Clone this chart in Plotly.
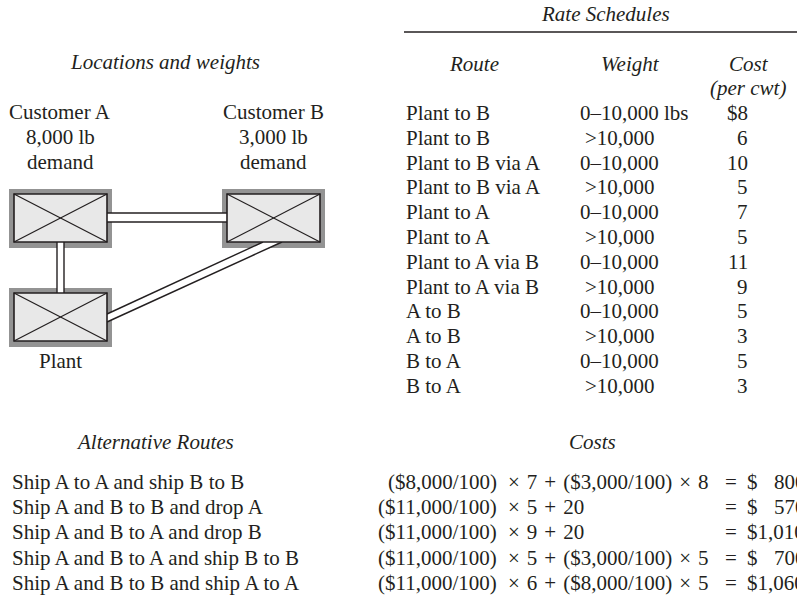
import plotly.graph_objects as go

W, H = 797, 606
FONT = "Liberation Serif"
FS = 21
INK = "#231f20"
SP = "\u2004"  # slightly wider math spacing around operators

# ---------------- data ----------------
locations = ["Customer A", "Customer B", "Plant"]
demands = ["8,000 lb", "3,000 lb"]

routes = ["Plant to B", "Plant to B", "Plant to B via A", "Plant to B via A",
          "Plant to A", "Plant to A", "Plant to A via B", "Plant to A via B",
          "A to B", "A to B", "B to A", "B to A"]
weights = ["0–10,000 lbs", ">10,000", "0–10,000", ">10,000", "0–10,000", ">10,000",
           "0–10,000", ">10,000", "0–10,000", ">10,000", "0–10,000", ">10,000"]
costs = ["$8", "6", "10", "5", "7", "5", "11", "9", "5", "3", "5", "3"]

alt_routes = ["Ship A to A and ship B to B",
              "Ship A and B to B and drop A",
              "Ship A and B to A and drop B",
              "Ship A and B to A and ship B to B",
              "Ship A and B to B and ship A to A"]
cost_first = ["($8,000/100)", "($11,000/100)", "($11,000/100)", "($11,000/100)", "($11,000/100)"]
cost_rest = ["× 7 + ($3,000/100) × 8", "× 5 + 20", "× 9 + 20",
             "× 5 + ($3,000/100) × 5", "× 6 + ($8,000/100) × 5"]
totals = [800, 570, 1010, 700, 1060]

# ---------------- figure ----------------
fig = go.Figure()
shapes = []
ann = []


def text(x, y, s, anchor="left", italic=False, xref="x"):
    ann.append(dict(x=x, y=y, xref=xref, yref="y", text=s, showarrow=False,
                    xanchor=anchor, yanchor="middle",
                    font=dict(family=FONT, size=FS, color=INK,
                              style="italic" if italic else "normal")))


def mathspace(s):
    return s.replace(" ", SP)


# --- left: locations diagram ---
text(165, 62, "Locations and weights", "center", True)
text(60, 112, locations[0], "center")
text(273, 112, locations[1], "center")
text(60, 137, demands[0], "center")
text(273, 137, demands[1], "center")
text(60, 162, "demand", "center")
text(273, 162, "demand", "center")
text(60, 361, locations[2], "center")

boxes = [(9, 189), (222, 189), (9, 288)]
BW, BH, FR = 103, 59, 5
for (x0, y0) in boxes:
    shapes.append(dict(type="rect", x0=x0, y0=y0, x1=x0 + BW, y1=y0 + BH,
                       line=dict(width=0), fillcolor="#939393", layer="above"))

# connectors (white channels with dark edges)
conn_fill = dict(line=dict(width=0), fillcolor="white", layer="above")
shapes.append(dict(type="rect", x0=107, y0=213, x1=227, y1=222, **conn_fill))
shapes.append(dict(type="rect", x0=57, y0=242, x1=64, y1=293, **conn_fill))
shapes.append(dict(type="path", path="M 263 242 L 282 242 L 107 322 L 107 314 Z", **conn_fill))

edge = dict(color=INK, width=1.4)
for seg in [(107, 213, 227, 213), (107, 222, 227, 222),
            (57, 242, 57, 293), (64, 242, 64, 293),
            (263, 242, 107, 314), (282, 242, 107, 322)]:
    shapes.append(dict(type="line", x0=seg[0], y0=seg[1], x1=seg[2], y1=seg[3],
                       line=edge, layer="above"))

for (x0, y0) in boxes:
    ix0, iy0, ix1, iy1 = x0 + FR, y0 + FR, x0 + BW - FR, y0 + BH - 6
    shapes.append(dict(type="rect", x0=ix0, y0=iy0, x1=ix1, y1=iy1,
                       line=dict(color=INK, width=1.6), fillcolor="#e8e8e8", layer="above"))
    shapes.append(dict(type="line", x0=ix0, y0=iy0, x1=ix1, y1=iy1,
                       line=dict(color=INK, width=1.1), layer="above"))
    shapes.append(dict(type="line", x0=ix0, y0=iy1, x1=ix1, y1=iy0,
                       line=dict(color=INK, width=1.1), layer="above"))

# --- right: rate schedules table ---
text(605, 14, "Rate Schedules", "center", True)
shapes.append(dict(type="line", x0=404, y0=32, x1=800, y1=32,
                   line=dict(color=INK, width=1.5), layer="above"))
text(474, 64, "Route", "center", True)
text(630, 64, "Weight", "center", True)
text(749, 64, "Cost", "center", True)
text(748, 88, "(per cwt)", "center", True)

ROW0, DY = 113, 24.8
for i, (r, w, c) in enumerate(zip(routes, weights, costs)):
    y = ROW0 + i * DY
    text(404, y, r, "left")
    if w.startswith(">"):
        text(657, y, w, "right")
    else:
        text(578, y, w, "left")
    text(750, y, c, "right")

# --- bottom: alternative routes and costs ---
text(155, 442, "Alternative Routes", "center", True)
text(592, 442, "Costs", "center", True)
BROW0, BDY = 482, 25.2
for i, (a, f1, f2, t) in enumerate(zip(alt_routes, cost_first, cost_rest, totals)):
    y = BROW0 + i * BDY
    text(10, y, a, "left")
    text(499, y, f1, "right")
    text(506, y, mathspace(f2), "left")
    text(731, y, "=", "center")
    if t >= 1000:
        text(745, y, f"${t:,}", "left")
    else:
        text(745, y, "$", "left")
        text(772, y, f"{t:,}", "left")

fig.update_layout(
    width=W, height=H, margin=dict(l=0, r=0, t=0, b=0),
    paper_bgcolor="white", plot_bgcolor="white",
    xaxis=dict(range=[0, W], visible=False, fixedrange=True),
    yaxis=dict(range=[H, 0], visible=False, fixedrange=True),
    shapes=shapes, annotations=ann, showlegend=False,
)
fig.write_html("out.html", config={"displayModeBar": False, "staticPlot": True},
               post_script="document.body.style.margin='0';document.body.style.overflow='hidden';")
